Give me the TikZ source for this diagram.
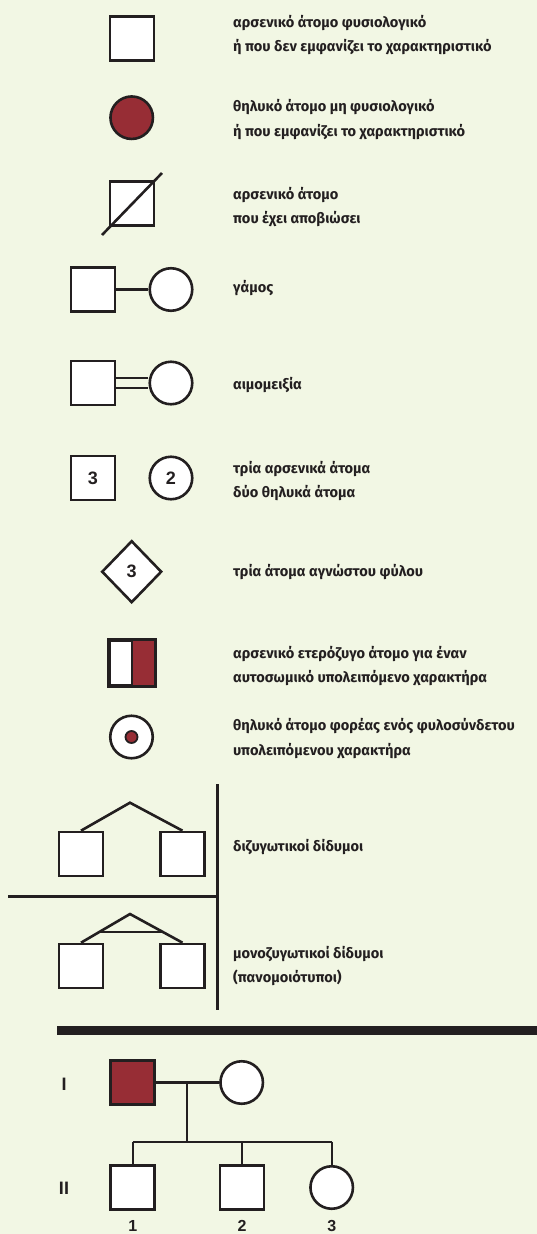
\documentclass[tikz,border=0pt]{standalone}
\usepackage{fontspec}
\setmainfont{Fira Sans}
\newfontfamily\numfont{Liberation Sans}
\usetikzlibrary{shapes.geometric,calc}
\definecolor{bgc}{RGB}{242,247,228}
\definecolor{ink}{RGB}{35,31,32}
\definecolor{dred}{RGB}{151,45,53}
\begin{document}
\begin{tikzpicture}[x=1pt,y=-1pt,
  sq/.style={rectangle,draw=ink,line width=2.6pt,fill=white,minimum size=44pt,inner sep=0pt},
  cir/.style={circle,draw=ink,line width=2.6pt,fill=white,minimum size=42.5pt,inner sep=0pt},
  dia/.style={diamond,draw=ink,line width=2.6pt,fill=white,minimum width=60pt,minimum height=62pt,inner sep=0pt},
  lbl/.style={anchor=west,inner sep=0pt,text=ink,align=left,font=\bfseries\fontsize{14.6}{24.5}\selectfont},
  num/.style={text=ink,font=\numfont\bfseries\fontsize{18}{18}\selectfont},
  pnum/.style={text=ink,inner sep=0pt,font=\numfont\bfseries\fontsize{16}{16}\selectfont},
  conn/.style={draw=ink,line width=2.6pt},
  pconn/.style={draw=ink,line width=2.3pt}]
\useasboundingbox (0,0) rectangle (537,1234);
\fill[bgc] (0,0) rectangle (537,1234);

% row 1
\node[sq] (r1) at (132,38.5) {};
\node[lbl] (t1) at (233,35) {αρσενικό άτομο φυσιολογικό\\ή που δεν εμφανίζει το χαρακτηριστικό};
% row 2
\node[cir,fill=dred] (r2) at (131.7,117.7) {};
\node[lbl] (t2) at (233,119.5) {θηλυκό άτομο μη φυσιολογικό\\ή που εμφανίζει το χαρακτηριστικό};
% row 3
\node[sq] (r3) at (132,203.5) {};
\coordinate (d1) at (102,235);
\coordinate (d2) at (162,173);
\draw[conn] (d1) -- (d2);
\node[lbl] (t3) at (233,207) {αρσενικό άτομο\\που έχει αποβιώσει};
% row 4
\node[sq] (r4a) at (93,289.5) {};
\node[cir] (r4b) at (171,289.5) {};
\draw[conn] (r4a) -- (r4b);
\node[lbl] (t4) at (233,288) {γάμος};
% row 5
\node[sq] (r5a) at (93,383) {};
\node[cir] (r5b) at (171,383) {};
\draw[conn] ([yshift=-5pt]r5a.east) -- ([yshift=-5pt]r5b.west);
\draw[conn] ([yshift=5pt]r5a.east) -- ([yshift=5pt]r5b.west);
\node[lbl] (t5) at (233,385) {αιμομειξία};
% row 6
\node[sq,num] (r6a) at (93,478) {3};
\node[cir,num] (r6b) at (171,478) {2};
\node[lbl] (t6) at (233,481) {τρία αρσενικά άτομα\\δύο θηλυκά άτομα};
% row 7
\node[dia,num] (r7) at (131.7,571.7) {3};
\node[lbl] (t7) at (233,572) {τρία άτομα αγνώστου φύλου};
% row 8
\node[sq] (r8) at (132,663) {};
\fill[dred] (r8.north) rectangle (r8.south east);
\draw[ink,line width=2.6pt] (r8.north west) rectangle (r8.south east);
\draw[conn] (r8.north) -- (r8.south);
\node[lbl] (t8) at (233,666) {αρσενικό ετερόζυγο άτομο για έναν\\αυτοσωμικό υπολειπόμενο χαρακτήρα};
% row 9
\node[cir] (r9) at (131.5,737) {};
\node[circle,fill=dred,draw=ink,line width=1.8pt,minimum size=12pt,inner sep=0pt] (r9d) at (131.5,737) {};
\node[lbl] (t9) at (233,738.5) {θηλυκό άτομο φορέας ενός φυλοσύνδετου\\υπολειπόμενου χαρακτήρα};

% twins separators
\coordinate (vtop) at (217.7,784);
\coordinate (vbot) at (217.7,1010);
\coordinate (hl) at (8,896.7);
\coordinate (hr) at (217.7,896.7);
\draw[conn] (vtop) -- (vbot);
\draw[conn] (hl) -- (hr);
% DZ twins
\node[sq] (dz1) at (81,854) {};
\node[sq] (dz2) at (182.5,854) {};
\coordinate (dza) at (130,802.7);
\draw[conn] (dz1.north) -- (dza) -- (dz2.north);
\node[lbl] (t10) at (233,847) {διζυγωτικοί δίδυμοι};
% MZ twins
\node[sq] (mz1) at (81,966) {};
\node[sq] (mz2) at (182.5,966) {};
\coordinate (mza) at (130,914);
\draw[conn] (mz1.north) -- (mza) -- (mz2.north);
\draw[conn] ($(mza)!0.63!(mz1.north)$) -- ($(mza)!0.63!(mz2.north)$);
\node[lbl] (t11) at (233,966) {μονοζυγωτικοί δίδυμοι\\(πανομοιότυποι)};

% thick bar
\fill[ink] (57,1026) rectangle (537,1034.7);

% pedigree
\node[num] (gI) at (64,1084) {I};
\node[num] (gII) at (64,1188) {II};
\node[sq,fill=dred] (p1) at (132.7,1082.5) {};
\node[cir] (p2) at (241.7,1082.5) {};
\draw[pconn] (p1) -- (p2);
\coordinate (m) at (187.3,1082.5);
\coordinate (mb) at (187.3,1141.7);
\draw[pconn] (m) -- (mb);
\node[sq] (c1) at (132.7,1187.5) {};
\node[sq] (c2) at (242,1187.5) {};
\node[cir] (c3) at (331.7,1187.5) {};
\coordinate (s1) at (132.7,1141.7);
\coordinate (s2) at (242,1141.7);
\coordinate (s3) at (331.7,1141.7);
\draw[pconn] (s1) -- (s3);
\draw[pconn] (s1) -- (c1.north);
\draw[pconn] (s2) -- (c2.north);
\draw[pconn] (s3) -- (c3.north);
\node[pnum] (n1) at (132.7,1225.5) {1};
\node[pnum] (n2) at (242,1225.5) {2};
\node[pnum] (n3) at (331.7,1225.5) {3};
\end{tikzpicture}
\end{document}
